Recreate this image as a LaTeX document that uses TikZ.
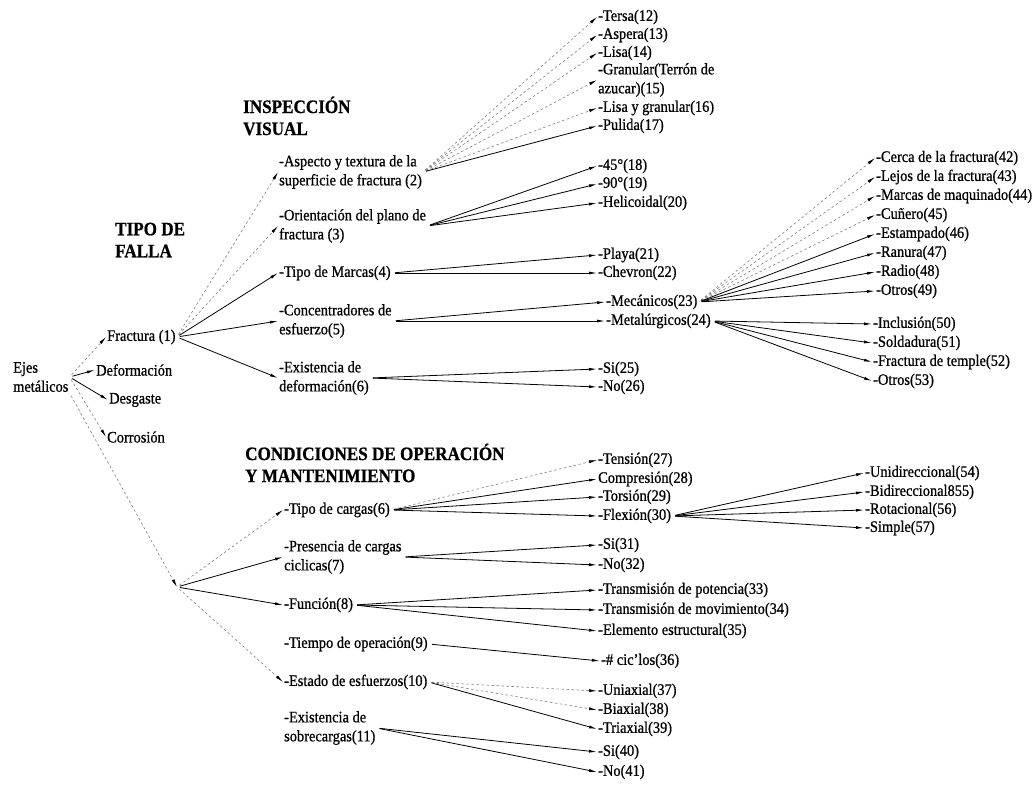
\documentclass[tikz,border=0pt]{standalone}
\usepackage{fontspec}
\setmainfont{Liberation Serif}[FakeStretch=0.9, FakeBold=0.8]
\usetikzlibrary{arrows.meta}

\begin{document}
\begin{tikzpicture}[x=1pt, y=-1pt,
    item/.style={anchor=west, inner sep=1pt, align=left, font=\fontsize{16}{19}\selectfont},
    head/.style={anchor=west, inner sep=0pt, align=left, font=\fontsize{19}{22}\selectfont\bfseries},
    link/.style={-{Latex[length=8pt, width=3pt, color=black]}, draw=black, line width=0.8pt, shorten <=3pt},
    faint/.style={link, draw=black!50, dash pattern=on 2.5pt off 2.5pt, line width=0.6pt}
  ]
    \path[use as bounding box, fill=white] (0,0) rectangle (1034,789);

    % root and failure types
    \node[item] (ejes) at (12,377) {Ejes\\metálicos};
    \node[head] (falla) at (115,240) {TIPO DE\\FALLA};
    \node[item] (fract) at (106,337) {Fractura (1)};
    \node[item] (deform) at (95,370) {Deformación};
    \node[item] (desg) at (108,400) {Desgaste};
    \node[item] (corr) at (106,437) {Corrosión};
    \coordinate (cond) at (177,587);

    \node[head] (insp) at (243,116) {INSPECCIÓN\\VISUAL};
    \node[head] (oper) at (245,463) {CONDICIONES DE OPERACIÓN\\Y MANTENIMIENTO};

    % visual inspection
    \node[item] (aspec) at (278,172) {-Aspecto y textura de la\\superficie de fractura (2)};
    \node[item] (orien) at (278,226) {-Orientación del plano de\\fractura (3)};
    \node[item] (marc) at (278,273) {-Tipo de Marcas(4)};
    \node[item] (conc) at (278,321) {-Concentradores de\\esfuerzo(5)};
    \node[item] (exdef) at (278,378) {-Existencia de\\deformación(6)};

    \node[item] (tersa) at (597,17) {-Tersa(12)};
    \node[item] (aspera) at (597,35) {-Aspera(13)};
    \node[item] (lisa) at (597,53) {-Lisa(14)};
    \node[item] (granu) at (597,80) {-Granular(Terrón de\\azucar)(15)};
    \node[item] (lisagr) at (597,108) {-Lisa y granular(16)};
    \node[item] (pulida) at (597,126) {-Pulida(17)};
    \node[item] (g45) at (597,166) {-45°(18)};
    \node[item] (g90) at (597,184) {-90°(19)};
    \node[item] (helic) at (597,203) {-Helicoidal(20)};
    \node[item] (playa) at (597,255) {-Playa(21)};
    \node[item] (chev) at (597,273) {-Chevron(22)};
    \node[item] (mecan) at (605,302) {-Mecánicos(23)};
    \node[item] (metal) at (605,321) {-Metalúrgicos(24)};
    \node[item] (si25) at (597,369) {-Si(25)};
    \node[item] (no26) at (597,387) {-No(26)};

    \node[item] (cerca) at (875,158) {-Cerca de la fractura(42)};
    \node[item] (lejos) at (875,177) {-Lejos de la fractura(43)};
    \node[item] (maquin) at (875,196) {-Marcas de maquinado(44)};
    \node[item] (cunero) at (875,215) {-Cuñero(45)};
    \node[item] (estamp) at (875,234) {-Estampado(46)};
    \node[item] (ranura) at (875,253) {-Ranura(47)};
    \node[item] (radio) at (875,272) {-Radio(48)};
    \node[item] (otros49) at (875,291) {-Otros(49)};
    \node[item] (inclus) at (872,324) {-Inclusión(50)};
    \node[item] (solda) at (872,343) {-Soldadura(51)};
    \node[item] (temple) at (872,362) {-Fractura de temple(52)};
    \node[item] (otros53) at (872,381) {-Otros(53)};

    % operating conditions
    \node[item] (carg) at (283,510) {-Tipo de cargas(6)};
    \node[item] (pres) at (283,557) {-Presencia de cargas\\ciclicas(7)};
    \node[item] (func) at (283,605) {-Función(8)};
    \node[item] (tiem) at (283,644) {-Tiempo de operación(9)};
    \node[item] (esta) at (283,682) {-Estado de esfuerzos(10)};
    \node[item] (sobr) at (283,728) {-Existencia de\\sobrecargas(11)};

    \node[item] (tens) at (597,460) {-Tensión(27)};
    \node[item] (compr) at (597,479) {Compresión(28)};
    \node[item] (tors) at (597,497) {-Torsión(29)};
    \node[item] (flex) at (597,516) {-Flexión(30)};
    \node[item] (si31) at (597,545) {-Si(31)};
    \node[item] (no32) at (597,565) {-No(32)};
    \node[item] (tpot) at (597,590) {-Transmisión de potencia(33)};
    \node[item] (tmov) at (597,610) {-Transmisión de movimiento(34)};
    \node[item] (elem) at (597,631) {-Elemento estructural(35)};
    \node[item] (ciclos) at (600,661) {-\# cic'los(36)};
    \node[item] (uniax) at (597,691) {-Uniaxial(37)};
    \node[item] (biax) at (597,710) {-Biaxial(38)};
    \node[item] (triax) at (597,729) {-Triaxial(39)};
    \node[item] (si40) at (597,752) {-Si(40)};
    \node[item] (no41) at (597,772) {-No(41)};

    \node[item] (unidir) at (864,473) {-Unidireccional(54)};
    \node[item] (bidir) at (864,492) {-Bidireccional855)};
    \node[item] (rotac) at (864,510) {-Rotacional(56)};
    \node[item] (simple) at (864,528) {-Simple(57)};

    % connectors
    \draw[faint] (ejes.east) -- (fract.west);
    \draw[link] (ejes.east) -- (deform.west);
    \draw[link] (ejes.east) -- (desg.west);
    \draw[faint] (ejes.east) -- (corr.west);
    \draw[faint] (ejes.south east) -- (cond);

    \draw[faint] (fract.east) -- (aspec.west);
    \draw[faint] (fract.east) -- (orien.west);
    \foreach \c in {marc, conc, exdef}
      \draw[link] (fract.east) -- (\c.west);

    \foreach \c in {tersa, aspera, lisa, granu, lisagr}
      \draw[faint] (aspec.east) -- (\c.west);
    \draw[link] (aspec.east) -- (pulida.west);
    \foreach \c in {g45, g90, helic}
      \draw[link] (orien.east) -- (\c.west);
    \foreach \c in {playa, chev}
      \draw[link] (marc.east) -- (\c.west);
    \foreach \c in {mecan, metal}
      \draw[link] (conc.east) -- (\c.west);
    \foreach \c in {si25, no26}
      \draw[link] (exdef.east) -- (\c.west);

    \foreach \c in {cerca, lejos, maquin, cunero}
      \draw[faint] (mecan.east) -- (\c.west);
    \foreach \c in {estamp, ranura, radio, otros49}
      \draw[link] (mecan.east) -- (\c.west);
    \foreach \c in {inclus, solda, temple, otros53}
      \draw[link] (metal.east) -- (\c.west);

    \draw[faint] (cond) -- (carg.west);
    \draw[link] (cond) -- (pres.west);
    \draw[link] (cond) -- (func.west);
    \draw[faint] (cond) -- (esta.west);

    \draw[faint] (carg.east) -- (tens.west);
    \foreach \c in {compr, tors, flex}
      \draw[link] (carg.east) -- (\c.west);
    \foreach \c in {unidir, bidir, rotac, simple}
      \draw[link] (flex.east) -- (\c.west);
    \foreach \c in {si31, no32}
      \draw[link] (pres.east) -- (\c.west);
    \foreach \c in {tpot, tmov, elem}
      \draw[link] (func.east) -- (\c.west);
    \draw[link] (tiem.east) -- (ciclos.west);
    \foreach \c in {uniax, biax}
      \draw[faint] (esta.east) -- (\c.west);
    \draw[link] (esta.east) -- (triax.west);
    \foreach \c in {si40, no41}
      \draw[link] (sobr.east) -- (\c.west);
  \end{tikzpicture}
\end{document}
